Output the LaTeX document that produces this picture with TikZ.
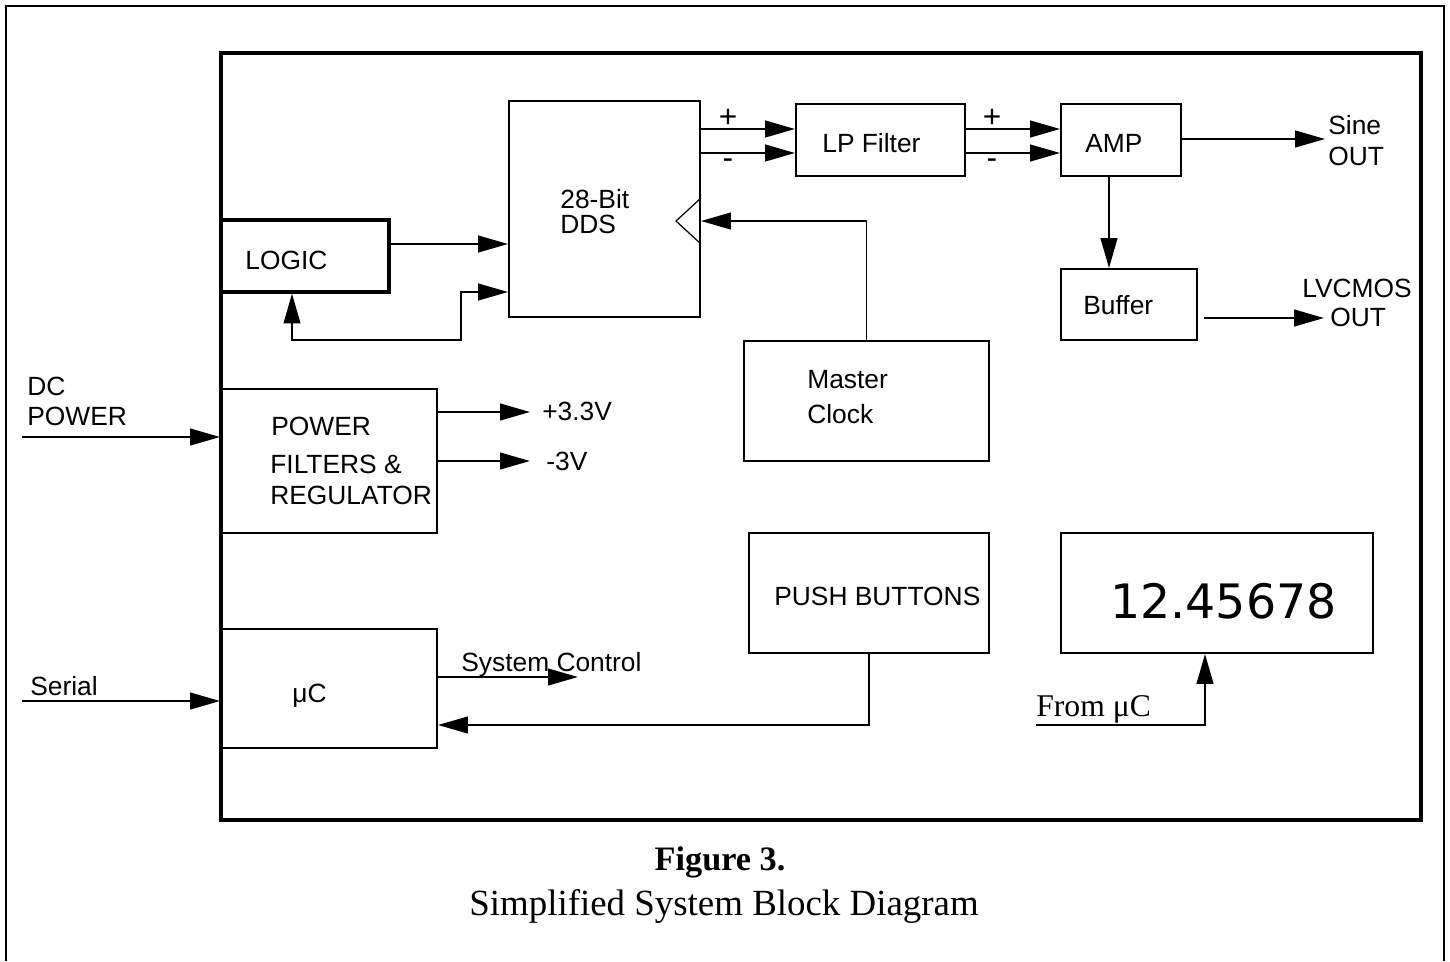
\documentclass[tikz,border=0pt]{standalone}
\usepackage{fontspec}
\setmainfont{Liberation Sans}
\newfontfamily\serifface{Liberation Serif}
\newfontfamily\dejavuface{DejaVu Sans}
\usetikzlibrary{arrows.meta,fit}
\begin{document}
\begin{tikzpicture}[x=0.02cm,y=-0.02cm,
  blk/.style={draw, line width=1.1pt, inner sep=0pt},
  arr/.style={line width=1.1pt, -{Triangle[length=17pt,width=9.5pt]}},
  biarr/.style={line width=1.1pt, {Triangle[length=17pt,width=9.5pt]}-{Triangle[length=17pt,width=9.5pt]}},
  lbl/.style={font=\fontsize{15}{18}\selectfont, inner sep=0pt, anchor=base west},
  sgn/.style={font=\fontsize{18}{20}\selectfont, inner sep=0pt, anchor=center}]
\useasboundingbox (0,0) rectangle (1450,961);
% outer frame (open at the bottom)
\draw[line width=1.2pt] (6,961) -- (6,6) -- (1444,6) -- (1444,961);
% inner frame
\node[fit={(221,53) (1421,820)}, draw, line width=2pt, inner sep=0pt] (frame) {};
% blocks
\node[blk, fit={(509,101) (700,317)}] (dds) {};
\node[blk, fit={(796,104) (965,176)}] (lp) {};
\node[blk, fit={(1061,104) (1181,176)}] (amp) {};
\node[blk, fit={(1061,269) (1197,340)}] (buf) {};
\node[blk, line width=1.8pt, fit={(221,220) (389,292)}] (logic) {};
\node[blk, fit={(221,389) (437,533)}] (pwr) {};
\node[blk, fit={(221,629) (437,748)}] (uc) {};
\node[blk, fit={(744,341) (989,461)}] (clk) {};
\node[blk, fit={(749,533) (989,653)}] (pb) {};
\node[blk, fit={(1061,533) (1373,653)}] (disp) {};
% clock input triangle
\draw[line width=0.7pt] (dds.east |- 0,198) -- (676,221) -- (dds.east |- 0,244);
% texts in blocks
\node[lbl] (tdds1) at (560,208) {28-Bit};
\node[lbl] (tdds2) at (560,233) {DDS};
\node[lbl] (tlp) at (822,152) {LP Filter};
\node[lbl] (tamp) at (1085,152) {AMP};
\node[lbl] (tbuf) at (1083,314) {Buffer};
\node[lbl] (tlogic) at (245,269) {LOGIC};
\node[lbl] (tpwr1) at (271,435) {POWER};
\node[lbl] (tpwr2) at (270,473) {FILTERS \&};
\node[lbl] (tpwr3) at (270,504) {REGULATOR};
\node[lbl] (tuc) at (292,702) {μC};
\node[lbl] (tclk1) at (807,388) {Master};
\node[lbl] (tclk2) at (807,423) {Clock};
\node[lbl] (tpb) at (774,605) {PUSH BUTTONS};
\node[inner sep=0pt, anchor=base west, font=\dejavuface\fontsize{27}{30}\selectfont] (tdisp) at (1110,618) {12.45678};
% outside labels
\node[lbl] (tsine1) at (1328,134) {Sine};
\node[lbl] (tsine2) at (1328,165) {OUT};
\node[lbl] (tlv1) at (1302,297) {LVCMOS};
\node[lbl] (tlv2) at (1330,326) {OUT};
\node[lbl] (tdc1) at (27,395) {DC};
\node[lbl] (tdc2) at (27,425) {POWER};
\node[lbl] (t33) at (542,420) {+3.3V};
\node[lbl] (tm3) at (546,470) {-3V};
\node[lbl] (tser) at (30,695) {Serial};
\node[lbl] (tsys) at (461,671) {System Control};
\node[inner sep=0pt, anchor=base west, font=\serifface\fontsize{18}{20}\selectfont] (tfrom) at (1036,716) {From μC};
\node[sgn] (p1) at (728,118) {+};
\node[sgn] (m1) at (728,164) {-};
\node[sgn] (p2) at (992,118) {+};
\node[sgn] (m2) at (992,164) {-};
% caption
\node[inner sep=0pt, anchor=base, font=\serifface\bfseries\fontsize{19.5}{24}\selectfont] (cap1) at (720,870) {Figure 3.};
\node[inner sep=0pt, anchor=base, font=\serifface\fontsize{21}{24}\selectfont] (cap2) at (724,915) {Simplified System Block Diagram};
% free-end coordinates
\coordinate (sinetip) at (1325,139);
\coordinate (lvstart) at (1204,318);
\coordinate (lvtip) at (1324,318);
\coordinate (dcin) at (22,437);
\coordinate (serin) at (22,701);
\coordinate (v33) at (530,412);
\coordinate (vm3) at (530,461);
\coordinate (systip) at (578,677);
\coordinate (fromuc) at (1036,725);
% connectors
\draw[arr] (dds.east |- 0,129) -- (lp.west |- 0,129);
\draw[arr] (dds.east |- 0,153) -- (lp.west |- 0,153);
\draw[arr] (lp.east |- 0,129) -- (amp.west |- 0,129);
\draw[arr] (lp.east |- 0,153) -- (amp.west |- 0,153);
\draw[arr] (amp.east |- sinetip) -- (sinetip);
\draw[arr] (1109,0 |- amp.south) -- (1109,0 |- buf.north);
\draw[arr] (lvstart) -- (lvtip);
\draw[arr] (logic.east |- 0,244) -- (dds.west |- 0,244);
\draw[biarr] (292,0 |- logic.south) -- (292,340) -- (461,340) -- (461,292) -- (dds.west |- 0,292);
\draw[arr] (clk.north) |- (dds.east |- 0,221);
\draw[arr] (dcin) -- (pwr.west |- dcin);
\draw[arr] (pwr.east |- v33) -- (v33);
\draw[arr] (pwr.east |- vm3) -- (vm3);
\draw[arr] (serin) -- (uc.west |- serin);
\draw[arr] (uc.east |- systip) -- (systip);
\draw[arr] (pb.south) |- (uc.east |- 0,725);
\draw[arr] (fromuc) -| (1205,0 |- disp.south);
\end{tikzpicture}
\end{document}
